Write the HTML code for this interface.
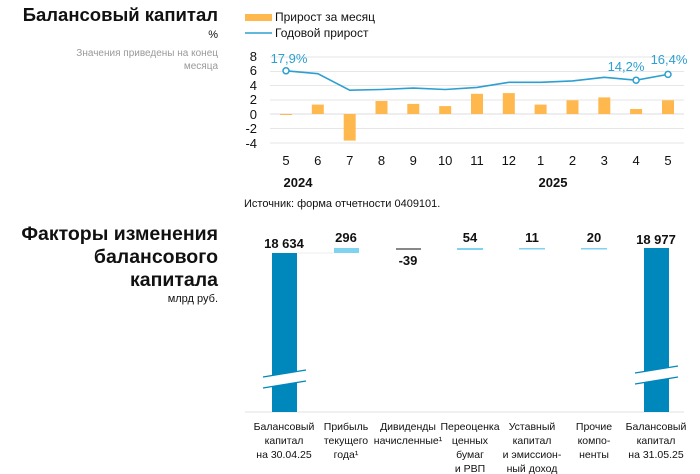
<!DOCTYPE html>
<html><head><meta charset="utf-8"><style>
body{margin:0;background:#fff;}
svg{display:block;font-family:"Liberation Sans",sans-serif;}
</style></head><body>
<svg width="700" height="474" viewBox="0 0 700 474">
<g text-anchor="end" fill="#111">
<text x="218" y="21" font-size="18.5" font-weight="bold">Балансовый капитал</text>
<text x="218" y="38" font-size="11">%</text>
<text x="218" y="56" font-size="10" fill="#999">Значения приведены на конец</text>
<text x="218" y="69" font-size="10" fill="#999">месяца</text>
<text x="218" y="240" font-size="19.5" font-weight="bold">Факторы изменения</text>
<text x="218" y="263" font-size="19.5" font-weight="bold">балансового</text>
<text x="218" y="286" font-size="19.5" font-weight="bold">капитала</text>
<text x="218" y="302" font-size="11">млрд руб.</text>
</g>
<rect x="245" y="14" width="27" height="7" fill="#ffb84d"/>
<text x="275" y="21" font-size="12" fill="#111">Прирост за месяц</text>
<line x1="245" y1="33" x2="272" y2="33" stroke="#2d9fd0" stroke-width="1.5"/>
<text x="275" y="37" font-size="12" fill="#111">Годовой прирост</text>
<g stroke="#e6e6e6" stroke-width="1">
<line x1="270" y1="57" x2="684" y2="57"/><line x1="270" y1="71.5" x2="684" y2="71.5"/>
<line x1="270" y1="85.5" x2="684" y2="85.5"/><line x1="270" y1="100" x2="684" y2="100"/>
<line x1="270" y1="128.5" x2="684" y2="128.5"/><line x1="270" y1="143" x2="684" y2="143"/>
</g>
<line x1="270" y1="114" x2="684" y2="114" stroke="#ddd"/>
<g font-size="13" fill="#111" text-anchor="end">
<text x="257" y="61">8</text><text x="257" y="75">6</text><text x="257" y="90">4</text>
<text x="257" y="104">2</text><text x="257" y="119">0</text><text x="257" y="133">-2</text><text x="257" y="148">-4</text>
</g>
<g fill="#ffb84d">
<rect x="280" y="114" width="12" height="1"/>
<rect x="311.8" y="104.6" width="12" height="9.4"/>
<rect x="343.7" y="114" width="12" height="26.6"/>
<rect x="375.5" y="101" width="12" height="13"/>
<rect x="407.3" y="103.9" width="12" height="10.1"/>
<rect x="439.2" y="106.1" width="12" height="7.9"/>
<rect x="471" y="93.8" width="12" height="20.2"/>
<rect x="502.8" y="93.1" width="12" height="20.9"/>
<rect x="534.6" y="104.6" width="12" height="9.4"/>
<rect x="566.5" y="100.3" width="12" height="13.7"/>
<rect x="598.3" y="97.4" width="12" height="16.6"/>
<rect x="630.1" y="109" width="12" height="5"/>
<rect x="662" y="100.3" width="12" height="13.7"/>
</g>
<polyline fill="none" stroke="#2d9fd0" stroke-width="1.6" points="286,70.8 317.8,73.7 349.7,90.2 381.5,89.5 413.3,88.1 445.2,89.5 477,87.4 508.8,82.3 540.6,82.3 572.5,80.9 604.3,77.3 636.1,80.2 668,74.4"/>
<g fill="#fff" stroke="#2d9fd0" stroke-width="1.5">
<circle cx="286" cy="70.8" r="3"/><circle cx="636.1" cy="80.2" r="3"/><circle cx="668" cy="74.4" r="3"/>
</g>
<g font-size="13" fill="#2d9fd0" text-anchor="middle">
<text x="289" y="63">17,9%</text><text x="626" y="71">14,2%</text><text x="669" y="64">16,4%</text>
</g>
<g font-size="13" fill="#111" text-anchor="middle">
<text x="286" y="165">5</text><text x="317.8" y="165">6</text><text x="349.7" y="165">7</text>
<text x="381.5" y="165">8</text><text x="413.3" y="165">9</text><text x="445.2" y="165">10</text>
<text x="477" y="165">11</text><text x="508.8" y="165">12</text><text x="540.6" y="165">1</text>
<text x="572.5" y="165">2</text><text x="604.3" y="165">3</text><text x="636.1" y="165">4</text><text x="668" y="165">5</text>
<text x="298" y="187" font-weight="bold">2024</text><text x="553" y="187" font-weight="bold">2025</text>
</g>
<text x="244" y="207" font-size="11" fill="#111">Источник: форма отчетности 0409101.</text>

<line x1="245" y1="412" x2="684" y2="412" stroke="#e0e0e0"/>
<line x1="297" y1="253" x2="334" y2="253" stroke="#eee"/>
<rect x="272" y="253" width="25" height="159" fill="#0087bb"/>
<rect x="644" y="248" width="25" height="164" fill="#0087bb"/>
<rect x="334" y="248" width="25" height="5" fill="#7fd3f0"/>
<rect x="396" y="248" width="25" height="2" fill="#888"/>
<rect x="457" y="248" width="26" height="2" fill="#7fd3f0"/>
<rect x="519" y="248" width="26" height="1.5" fill="#7fd3f0"/>
<rect x="581" y="248" width="26" height="1.5" fill="#7fd3f0"/>
<polygon points="263,377 306,370 306,381 263,388" fill="#fff"/>
<line x1="263" y1="377" x2="306" y2="370" stroke="#0087bb" stroke-width="1.3"/>
<line x1="263" y1="388" x2="306" y2="381" stroke="#0087bb" stroke-width="1.3"/>
<polygon points="635,373 678,366 678,377 635,384" fill="#fff"/>
<line x1="635" y1="373" x2="678" y2="366" stroke="#0087bb" stroke-width="1.3"/>
<line x1="635" y1="384" x2="678" y2="377" stroke="#0087bb" stroke-width="1.3"/>
<g font-size="13" font-weight="bold" fill="#111" text-anchor="middle">
<text x="284" y="248">18 634</text><text x="346" y="242">296</text><text x="408" y="265">-39</text>
<text x="470" y="242">54</text><text x="532" y="242">11</text><text x="594" y="242">20</text><text x="656" y="244">18 977</text>
</g>
<g font-size="10.5" fill="#111" text-anchor="middle">
<text x="284" y="430">Балансовый</text><text x="284" y="444">капитал</text><text x="284" y="458">на 30.04.25</text>
<text x="346" y="430">Прибыль</text><text x="346" y="444">текущего</text><text x="346" y="458">года¹</text>
<text x="408" y="430">Дивиденды</text><text x="408" y="444">начисленные¹</text>
<text x="470" y="430">Переоценка</text><text x="470" y="444">ценных</text><text x="470" y="458">бумаг</text><text x="470" y="472">и РВП</text>
<text x="532" y="430">Уставный</text><text x="532" y="444">капитал</text><text x="532" y="458">и эмиссион-</text><text x="532" y="472">ный доход</text>
<text x="594" y="430">Прочие</text><text x="594" y="444">компо-</text><text x="594" y="458">ненты</text>
<text x="656" y="430">Балансовый</text><text x="656" y="444">капитал</text><text x="656" y="458">на 31.05.25</text>
</g>
</svg>
</body></html>
